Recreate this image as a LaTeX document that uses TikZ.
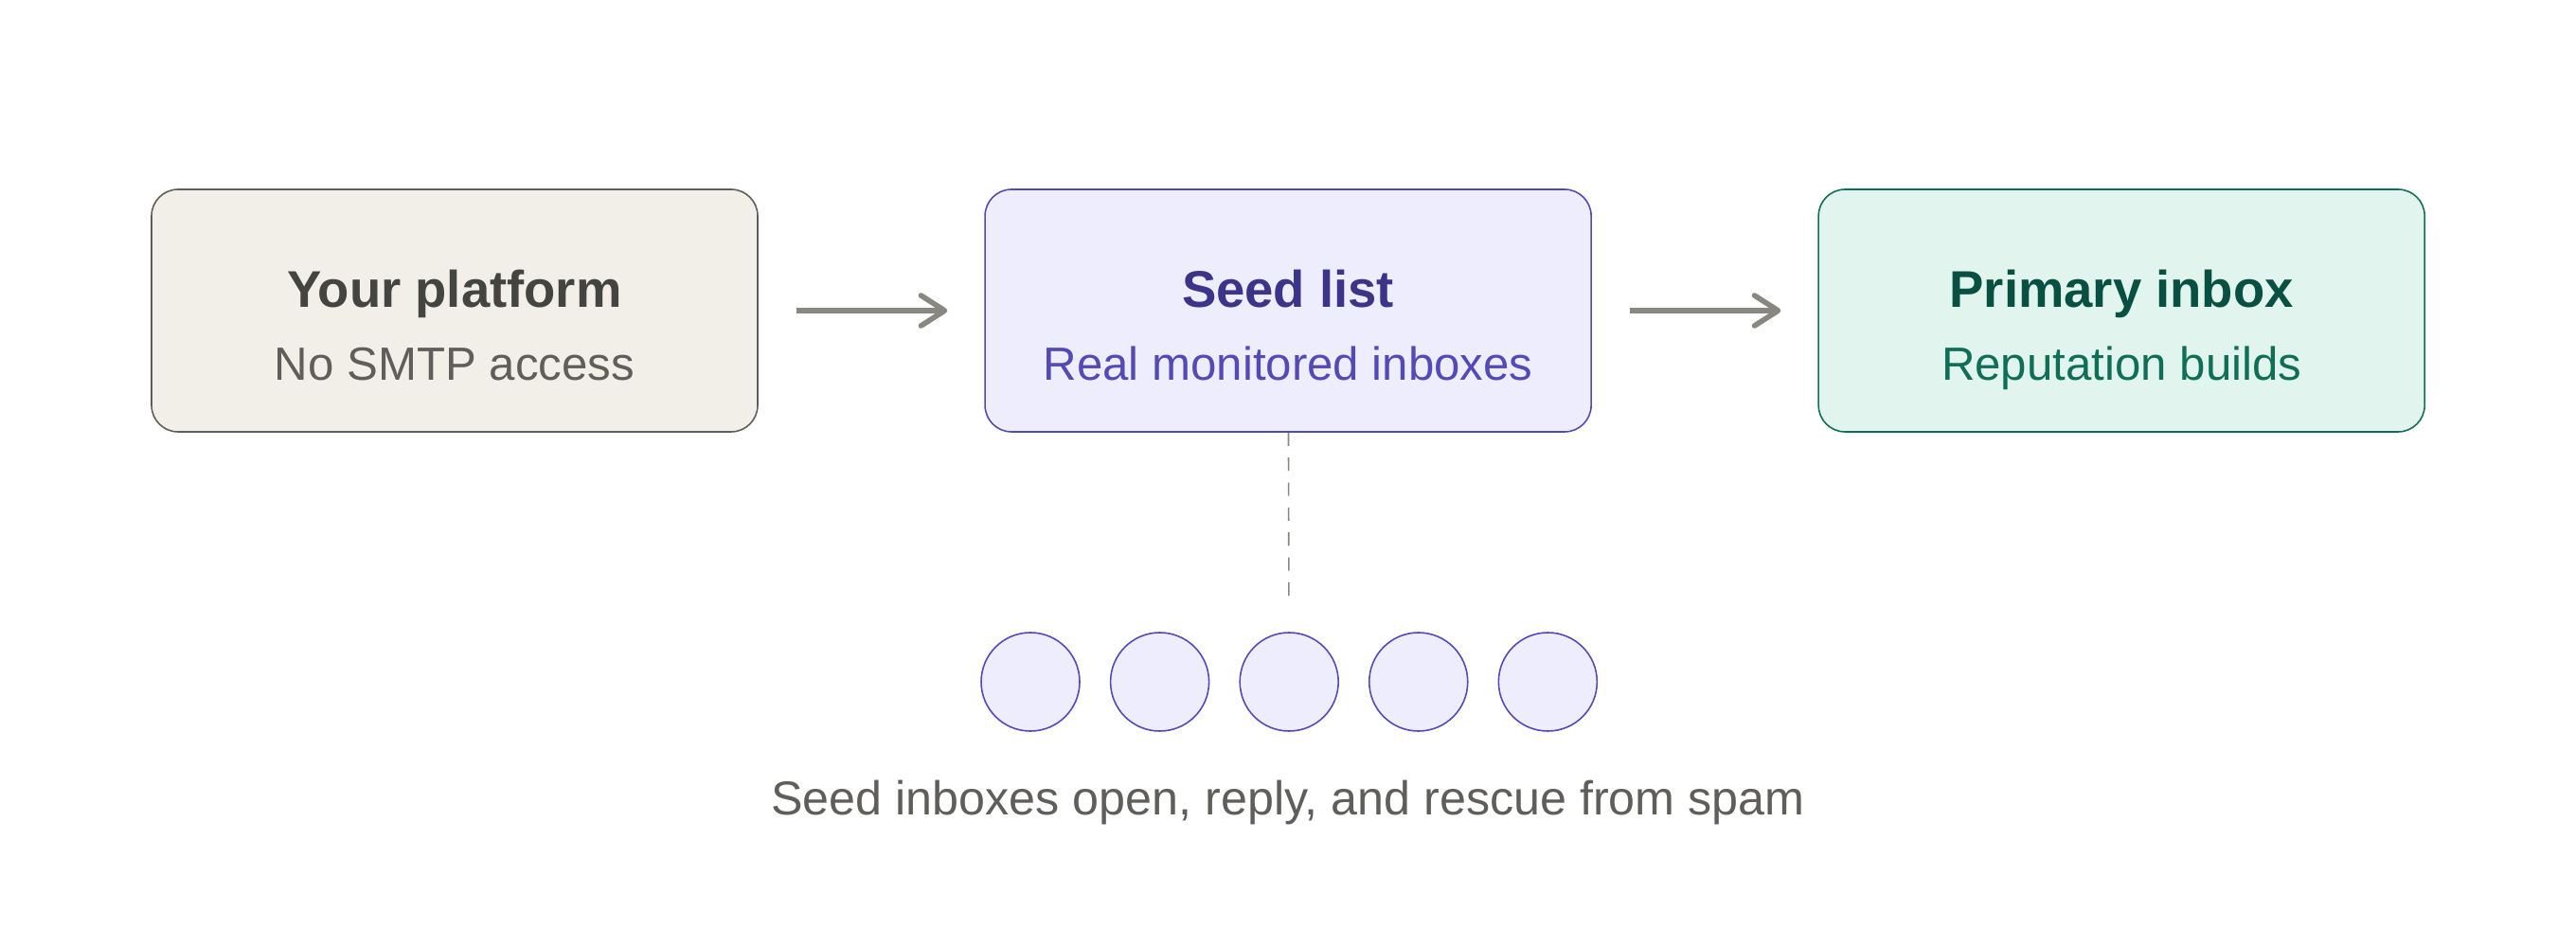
\documentclass[tikz,border=0pt]{standalone}
\usepackage{fontspec}
\setmainfont{Liberation Sans}
\usetikzlibrary{chains,positioning,arrows.meta}
\usepackage{color}

\definecolor{sandfill}{HTML}{F1EFE8}
\definecolor{sanddraw}{HTML}{5F5E5A}
\definecolor{sandtitle}{HTML}{444441}
\definecolor{sandsub}{HTML}{5F5E5A}
\definecolor{seedfill}{HTML}{EEEDFE}
\definecolor{seeddraw}{HTML}{534AB7}
\definecolor{seedtitle}{HTML}{3C3489}
\definecolor{seedsub}{HTML}{534AB7}
\definecolor{inboxfill}{HTML}{E1F5EE}
\definecolor{inboxdraw}{HTML}{0F6E56}
\definecolor{inboxtitle}{HTML}{085041}
\definecolor{inboxsub}{HTML}{0F6E56}
\definecolor{flowgray}{HTML}{888780}

\begin{document}
\begin{tikzpicture}
\useasboundingbox (0,0) rectangle (27.2,-10);

\edef\sizestage{6.4cm}
\tikzstyle{stage}=[draw,rounded corners=0.28cm,minimum width=\sizestage,minimum height=2.56cm,line width=0.45pt]
\tikzstyle{stagetitle}=[anchor=base,inner sep=0pt,font=\fontsize{15.5}{18}\selectfont\bfseries]
\tikzstyle{stagesub}=[anchor=base,inner sep=0pt,font=\fontsize{14}{17}\selectfont]
\tikzstyle{seedcircle}=[circle,draw=seeddraw,fill=seedfill,minimum size=1.04cm,inner sep=0pt,line width=0.45pt]
\tikzstyle{flow}=[flowgray,line width=1.6pt,-{Straight Barb[length=0.25cm,width=0.32cm,round]},shorten <=0.4cm,shorten >=0.39cm]
\tikzstyle{tether}=[flowgray,line width=0.45pt,dash pattern=on 4pt off 3.5pt,shorten >=0.36cm]

%% Draw the three stages
\begin{scope}[start chain=1 going right,node distance=2.385cm]
    \node [on chain=1,stage,draw=sanddraw,fill=sandfill] at (4.8,-3.28) (platform) {};
    \node [on chain=1,stage,draw=seeddraw,fill=seedfill] (seedlist) {};
    \node [on chain=1,stage,draw=inboxdraw,fill=inboxfill] (primary) {};
\end{scope}

%% Stage labels
\node [stagetitle,sandtitle] at ([yshift=0.03cm]platform.center) (platformtitle) {Your platform};
\node [stagesub,sandsub] at ([yshift=-0.74cm]platform.center) (platformsub) {No SMTP access};
\node [stagetitle,seedtitle] at ([yshift=0.03cm]seedlist.center) (seedlisttitle) {Seed list};
\node [stagesub,seedsub] at ([yshift=-0.74cm]seedlist.center) (seedlistsub) {Real monitored inboxes};
\node [stagetitle,inboxtitle] at ([yshift=0.03cm]primary.center) (primarytitle) {Primary inbox};
\node [stagesub,inboxsub] at ([yshift=-0.74cm]primary.center) (primarysub) {Reputation builds};

%% Draw seed inboxes below the seed list
\begin{scope}[start chain=2 going right,node distance=0.31cm]
    \node [on chain=2,seedcircle] at (10.88,-7.2) (inbox1) {};
    \node [on chain=2,seedcircle] (inbox2) {};
    \node [on chain=2,seedcircle] (inbox3) {};
    \node [on chain=2,seedcircle] (inbox4) {};
    \node [on chain=2,seedcircle] (inbox5) {};
\end{scope}
\node [stagesub,sandsub,font=\fontsize{14.3}{17}\selectfont] at (13.6,-8.6) (caption) {Seed inboxes open, reply, and rescue from spam};

%% Connectors
\draw [flow] (platform) -- (seedlist);
\draw [flow] (seedlist) -- (primary);
\draw [tether] (seedlist) -- (inbox3);
\end{tikzpicture}
\end{document}
